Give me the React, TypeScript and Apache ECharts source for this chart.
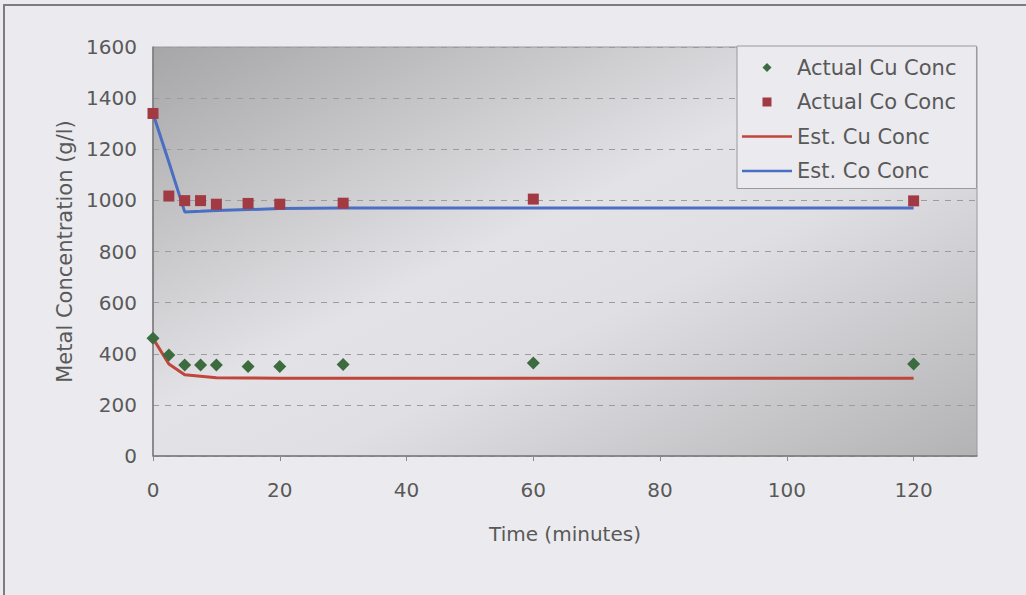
import React, { useEffect, useRef } from "react";
import * as echarts from "echarts";

const timeMinutes = [0, 2.5, 5, 7.5, 10, 15, 20, 30, 60, 120];
const actualCu = [461, 395, 356, 356, 356, 350, 350, 358, 364, 360];
const actualCo = [1340, 1017, 999, 999, 985, 988, 985, 989, 1005, 998];
const estCu = [460, 360, 318, 312, 306, 305, 304, 304, 304, 304];
const estCo = [1340, 1150, 955, 957, 960, 964, 968, 970, 970, 970];
const xTicks = [0, 20, 40, 60, 80, 100, 120];
const seriesNames = ["Actual Cu Conc", "Actual Co Conc", "Est. Cu Conc", "Est. Co Conc"];

const FONT = "DejaVu Sans";
const TXT = "#595959";

const DIAMOND_ICON = "path://M5,0L10,5L5,10L0,5Z";
const SQUARE_ICON = "path://M0,0L10,0L10,10L0,10Z";
const LINE_ICON = "path://M0,0L50,0L50,2.6L0,2.6Z";

function pairs(xs: number[], ys: number[]) {
  return xs.map((x, i) => [x, ys[i]]);
}

export default function App() {
  const ref = useRef<HTMLDivElement>(null);
  useEffect(() => {
    if (!ref.current) return;
    const chart = echarts.init(ref.current, undefined, { renderer: "svg" });
    const icons = [DIAMOND_ICON, SQUARE_ICON, LINE_ICON, LINE_ICON];
    chart.setOption({
      animation: false,
      backgroundColor: "#ebebef",
      textStyle: { fontFamily: FONT, color: TXT },
      graphic: [
        {
          type: "rect",
          shape: { x: 4, y: 5, width: 1040, height: 600 },
          style: { fill: "none", stroke: "#7d7d80", lineWidth: 2 },
          z: 0,
        },
      ],
      grid: {
        left: 153,
        top: 47,
        right: 49,
        bottom: 139,
        show: true,
        borderColor: "#9a9a9c",
        borderWidth: 1,
        backgroundColor: new echarts.graphic.LinearGradient(0, 0, 1, 1, [
          { offset: 0, color: "#a6a6a8" },
          { offset: 0.45, color: "#e3e3e7" },
          { offset: 0.6, color: "#e0e0e4" },
          { offset: 1, color: "#b3b3b6" },
        ]),
      },
      legend: {
        data: seriesNames.map((n, i) => ({ name: n, icon: icons[i] })),
        orient: "vertical",
        left: 737,
        top: 46,
        itemWidth: 50,
        itemHeight: 9,
        itemGap: 13.5,
        symbolKeepAspect: true,
        padding: [11, 20, 7, 5],
        backgroundColor: "#ebebef",
        borderColor: "#9a9a9c",
        borderWidth: 1,
        textStyle: { fontFamily: FONT, fontSize: 21, color: TXT, lineHeight: 21 },
      },
      xAxis: {
        type: "value",
        min: 0,
        max: 130,
        interval: 20,
        name: "Time (minutes)",
        nameLocation: "middle",
        nameGap: 68,
        nameTextStyle: { fontFamily: FONT, fontSize: 20, color: TXT, verticalAlign: "top" },
        axisLine: { show: true, lineStyle: { color: "#7a7a7c", width: 1.5 } },
        axisTick: { show: true, length: 5, customValues: xTicks, lineStyle: { color: "#8a8a8c" } },
        axisLabel: {
          customValues: xTicks,
          margin: 24,
          fontFamily: FONT,
          fontSize: 20,
          color: TXT,
          formatter: (v: number) => String(v),
        },
        splitLine: { show: false },
      },
      yAxis: {
        type: "value",
        min: 0,
        max: 1600,
        interval: 200,
        name: "Metal Concentration (g/l)",
        nameLocation: "middle",
        nameGap: 73,
        nameTextStyle: { fontFamily: FONT, fontSize: 21, color: TXT },
        axisLine: { show: true, lineStyle: { color: "#7a7a7c", width: 1.5 } },
        axisTick: { show: false },
        axisLabel: {
          margin: 16,
          fontFamily: FONT,
          fontSize: 20,
          color: TXT,
          formatter: (v: number) => String(v),
        },
        splitLine: { show: true, lineStyle: { color: "#9c9c9e", type: [6, 6], width: 1 } },
      },
      series: [
        {
          name: "Est. Cu Conc",
          type: "line",
          data: pairs(timeMinutes, estCu),
          showSymbol: false,
          symbol: "none",
          lineStyle: { color: "#c0453a", width: 3 },
          itemStyle: { color: "#c0453a" },
          z: 2,
        },
        {
          name: "Est. Co Conc",
          type: "line",
          data: pairs(timeMinutes, estCo),
          showSymbol: false,
          symbol: "none",
          lineStyle: { color: "#4a6ec2", width: 3 },
          itemStyle: { color: "#4a6ec2" },
          z: 2,
        },
        {
          name: "Actual Cu Conc",
          type: "scatter",
          data: pairs(timeMinutes, actualCu),
          symbol: "diamond",
          symbolSize: 13,
          itemStyle: { color: "#3b6b3e", opacity: 1 },
          z: 3,
        },
        {
          name: "Actual Co Conc",
          type: "scatter",
          data: pairs(timeMinutes, actualCo),
          symbol: "rect",
          symbolSize: 11,
          itemStyle: { color: "#a23a44", opacity: 1 },
          z: 3,
        },
      ],
    });
    return () => chart.dispose();
  }, []);
  return (
    <div
      ref={ref}
      style={{ position: "fixed", left: 0, top: 0, width: 1026, height: 595 }}
    />
  );
}
